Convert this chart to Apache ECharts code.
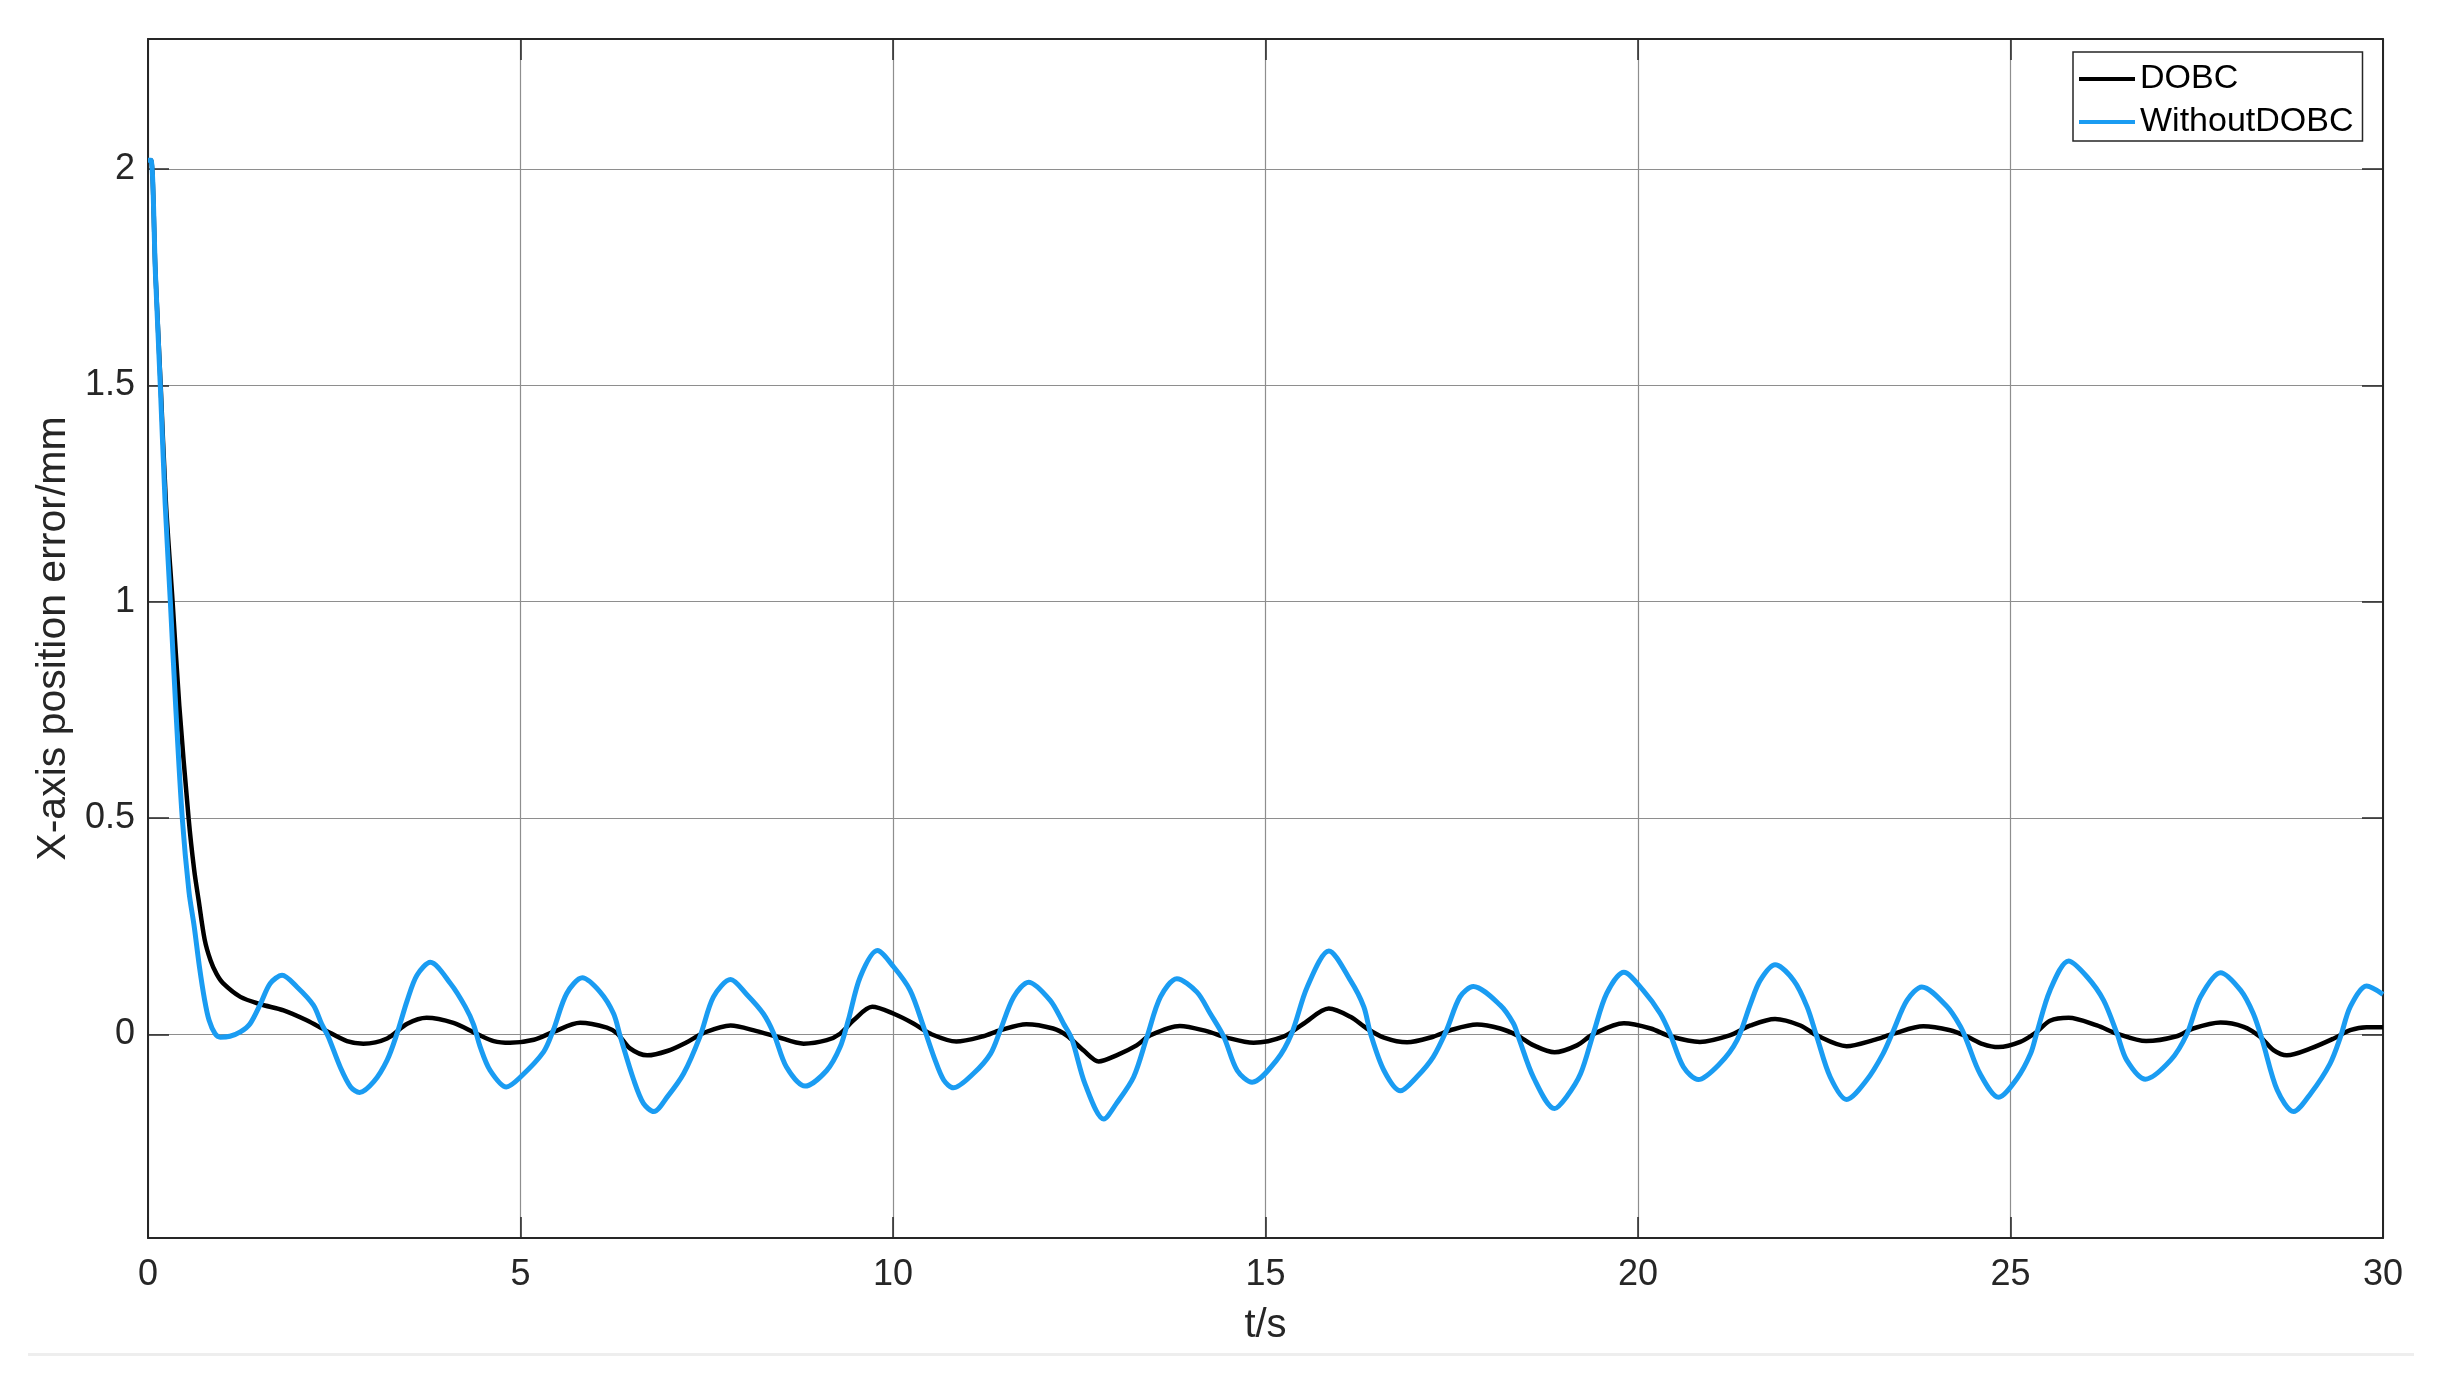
<!DOCTYPE html>
<html>
<head>
<meta charset="utf-8">
<script src="https://cdn.jsdelivr.net/npm/echarts/dist/echarts.min.js"></script>
<style>
  html, body { margin: 0; padding: 0; background: #ffffff; }
  #chart { width: 2442px; height: 1384px; }
</style>
</head>
<body>
<div id="chart"></div>
<script>
// ---- data ----
const seriesNames = ['DOBC', 'WithoutDOBC'];
const xTicks = [0, 5, 10, 15, 20, 25, 30];
const yTicks = [0, 0.5, 1, 1.5, 2];

const tDOBC = [0.00,0.04,0.10,0.17,0.24,0.33,0.42,0.545,0.62,0.68,0.76,0.84,0.92,1.01,1.24,1.51,1.82,2.13,2.39,2.67,2.89,3.21,3.48,3.74,4.10,4.41,4.64,4.86,5.18,5.44,5.80,6.16,6.30,6.47,6.70,6.97,7.24,7.46,7.82,8.17,8.44,8.80,9.11,9.29,9.47,9.72,10.01,10.28,10.50,10.85,11.21,11.44,11.79,12.15,12.33,12.56,12.76,13.00,13.27,13.45,13.85,14.21,14.48,14.84,15.24,15.51,15.85,16.14,16.36,16.59,16.90,17.25,17.48,17.84,18.15,18.38,18.60,18.88,19.18,19.40,19.81,20.17,20.43,20.83,21.23,21.51,21.84,22.18,22.40,22.80,23.16,23.43,23.83,24.19,24.41,24.63,24.84,25.13,25.35,25.53,25.78,26.16,26.43,26.82,27.23,27.45,27.82,28.13,28.35,28.53,28.71,29.03,29.34,29.56,29.78,30.00];
const vDOBC = [2.02,2.02,1.76,1.50,1.23,1.00,0.76,0.50,0.38,0.31,0.22,0.171,0.14,0.118,0.087,0.070,0.056,0.033,0.009,-0.015,-0.021,-0.009,0.025,0.039,0.027,0.002,-0.015,-0.019,-0.012,0.006,0.027,0.016,0.002,-0.032,-0.048,-0.038,-0.017,0.004,0.021,0.008,-0.005,-0.021,-0.013,0.002,0.033,0.064,0.048,0.025,0.002,-0.016,-0.004,0.010,0.024,0.014,-0.002,-0.037,-0.062,-0.048,-0.025,-0.002,0.020,0.008,-0.007,-0.019,-0.005,0.025,0.060,0.041,0.014,-0.007,-0.018,-0.005,0.010,0.023,0.014,-0.002,-0.025,-0.041,-0.025,0.001,0.026,0.014,-0.004,-0.017,-0.002,0.021,0.036,0.021,-0.002,-0.027,-0.013,0.002,0.019,0.010,-0.004,-0.022,-0.029,-0.017,0.006,0.032,0.039,0.021,0.002,-0.015,-0.004,0.014,0.028,0.018,-0.005,-0.036,-0.048,-0.032,-0.009,0.010,0.017,0.017];

const tWithout = [0.00,0.04,0.10,0.165,0.23,0.30,0.37,0.46,0.55,0.62,0.69,0.76,0.82,0.90,0.97,1.10,1.24,1.37,1.51,1.64,1.80,2.00,2.22,2.33,2.42,2.58,2.72,2.84,3.03,3.21,3.34,3.48,3.61,3.79,4.06,4.26,4.37,4.46,4.59,4.81,5.00,5.31,5.44,5.62,5.83,6.07,6.25,6.34,6.52,6.65,6.79,6.97,7.19,7.41,7.59,7.82,8.04,8.26,8.40,8.57,8.82,9.11,9.29,9.40,9.56,9.79,10.01,10.23,10.41,10.55,10.68,10.81,11.08,11.31,11.44,11.62,11.82,12.11,12.29,12.40,12.58,12.83,13.00,13.23,13.41,13.59,13.81,14.08,14.26,14.44,14.62,14.82,15.15,15.35,15.56,15.85,16.14,16.32,16.41,16.59,16.81,17.03,17.25,17.43,17.61,17.79,18.15,18.33,18.40,18.60,18.88,19.04,19.23,19.40,19.58,19.81,20.07,20.30,20.43,20.61,20.81,21.10,21.33,21.51,21.64,21.84,22.09,22.27,22.40,22.58,22.80,23.07,23.29,23.43,23.61,23.81,24.15,24.33,24.41,24.59,24.84,25.09,25.27,25.35,25.53,25.78,26.03,26.25,26.43,26.56,26.81,27.15,27.37,27.55,27.82,28.09,28.26,28.38,28.58,28.80,29.03,29.29,29.43,29.56,29.78,30.00];
const vWithout = [2.02,2.02,1.757,1.50,1.228,1.00,0.764,0.50,0.33,0.25,0.157,0.08,0.033,0.002,-0.006,-0.004,0.006,0.025,0.071,0.118,0.137,0.11,0.068,0.025,-0.005,-0.075,-0.121,-0.134,-0.109,-0.059,0.001,0.079,0.137,0.167,0.118,0.064,0.023,-0.029,-0.082,-0.121,-0.098,-0.040,0.010,0.095,0.131,0.098,0.048,-0.005,-0.105,-0.159,-0.178,-0.144,-0.090,-0.004,0.087,0.127,0.092,0.048,0.002,-0.075,-0.119,-0.083,-0.029,0.033,0.133,0.194,0.156,0.102,0.018,-0.052,-0.105,-0.123,-0.090,-0.044,0.010,0.087,0.121,0.079,0.025,-0.010,-0.115,-0.195,-0.159,-0.098,-0.005,0.087,0.129,0.098,0.048,-0.005,-0.083,-0.110,-0.059,0.002,0.110,0.193,0.125,0.064,0.002,-0.083,-0.130,-0.098,-0.052,0.010,0.087,0.111,0.068,0.025,-0.008,-0.100,-0.171,-0.144,-0.090,0.002,0.095,0.144,0.102,0.048,0.002,-0.075,-0.104,-0.067,-0.013,0.071,0.125,0.161,0.125,0.064,-0.005,-0.098,-0.150,-0.105,-0.044,0.010,0.079,0.110,0.064,0.018,-0.013,-0.090,-0.145,-0.101,-0.044,0.002,0.102,0.170,0.133,0.079,0.002,-0.059,-0.103,-0.059,0.002,0.087,0.143,0.102,0.048,-0.013,-0.128,-0.178,-0.136,-0.067,-0.005,0.064,0.112,0.093];

function pairs(ts, vs) { return ts.map((t, i) => [t, vs[i]]); }

const FONT = '"Liberation Sans", Arial, Helvetica, sans-serif';
const TXT = '#262626';
const AX = '#262626';

const chart = echarts.init(document.getElementById('chart'), null, { renderer: 'canvas' });

const tickStyle = { show: true, inside: true, length: 21, lineStyle: { color: AX, width: 1.5 } };
const axisLineStyle = { show: true, onZero: false, lineStyle: { color: AX, width: 2 } };
const gridLine = { show: true, lineStyle: { color: '#8e8e8e', width: 1.2 } };

chart.setOption({
  animation: false,
  backgroundColor: '#ffffff',
  grid: { left: 148, right: 59, top: 39, bottom: 146, containLabel: false },
  legend: {
    data: seriesNames,
    orient: 'vertical',
    left: 2073,
    top: 52,
    padding: [9, 9, 1, 6],
    itemGap: 7,
    itemWidth: 56,
    itemHeight: 4,
    icon: 'rect',
    backgroundColor: '#ffffff',
    borderColor: '#262626',
    borderWidth: 1.5,
    borderRadius: 0,
    textStyle: { fontFamily: FONT, fontSize: 34, color: '#000000', lineHeight: 36, padding: [0, 0, 0, 0] }
  },
  xAxis: [
    {
      type: 'value', position: 'bottom', min: 0, max: 30, interval: 5,
      name: 't/s', nameLocation: 'middle', nameGap: 68,
      nameTextStyle: { fontFamily: FONT, fontSize: 40, color: TXT },
      axisLine: axisLineStyle, axisTick: tickStyle,
      axisLabel: { show: true, margin: 19, fontFamily: FONT, fontSize: 36, color: TXT,
        customValues: xTicks },
      splitLine: gridLine
    },
    {
      type: 'value', position: 'top', min: 0, max: 30, interval: 5,
      axisLine: axisLineStyle, axisTick: tickStyle,
      axisLabel: { show: false }, splitLine: { show: false }
    }
  ],
  yAxis: [
    {
      type: 'value', position: 'left', min: -0.47, max: 2.3,
      name: 'X-axis position error/mm', nameLocation: 'middle', nameGap: 70, nameRotate: 90,
      nameTextStyle: { fontFamily: FONT, fontSize: 41, color: TXT },
      axisLine: axisLineStyle,
      axisTick: Object.assign({}, tickStyle, { customValues: yTicks }),
      axisLabel: { show: true, margin: 13, fontFamily: FONT, fontSize: 36, color: TXT,
        customValues: yTicks, formatter: v => String(v) },
      splitLine: gridLine
    },
    {
      type: 'value', position: 'right', min: -0.47, max: 2.3,
      axisLine: axisLineStyle,
      axisTick: Object.assign({}, tickStyle, { customValues: yTicks }),
      axisLabel: { show: false, customValues: yTicks }, splitLine: { show: false }
    }
  ],
  graphic: [
    { type: 'rect', silent: true, shape: { x: 28, y: 1353, width: 2386, height: 3 }, style: { fill: '#eeeeee' } }
  ],
  series: [
    {
      name: 'DOBC', type: 'line', xAxisIndex: 0, yAxisIndex: 0,
      data: pairs(tDOBC, vDOBC), showSymbol: false, symbol: 'none', smooth: 0.3,
      lineStyle: { color: '#000000', width: 4.5 }, itemStyle: { color: '#000000' }, z: 3
    },
    {
      name: 'WithoutDOBC', type: 'line', xAxisIndex: 0, yAxisIndex: 0,
      data: pairs(tWithout, vWithout), showSymbol: false, symbol: 'none', smooth: 0.3,
      lineStyle: { color: '#1a9cf2', width: 5 }, itemStyle: { color: '#1a9cf2' }, z: 4
    }
  ]
});
</script>
</body>
</html>
